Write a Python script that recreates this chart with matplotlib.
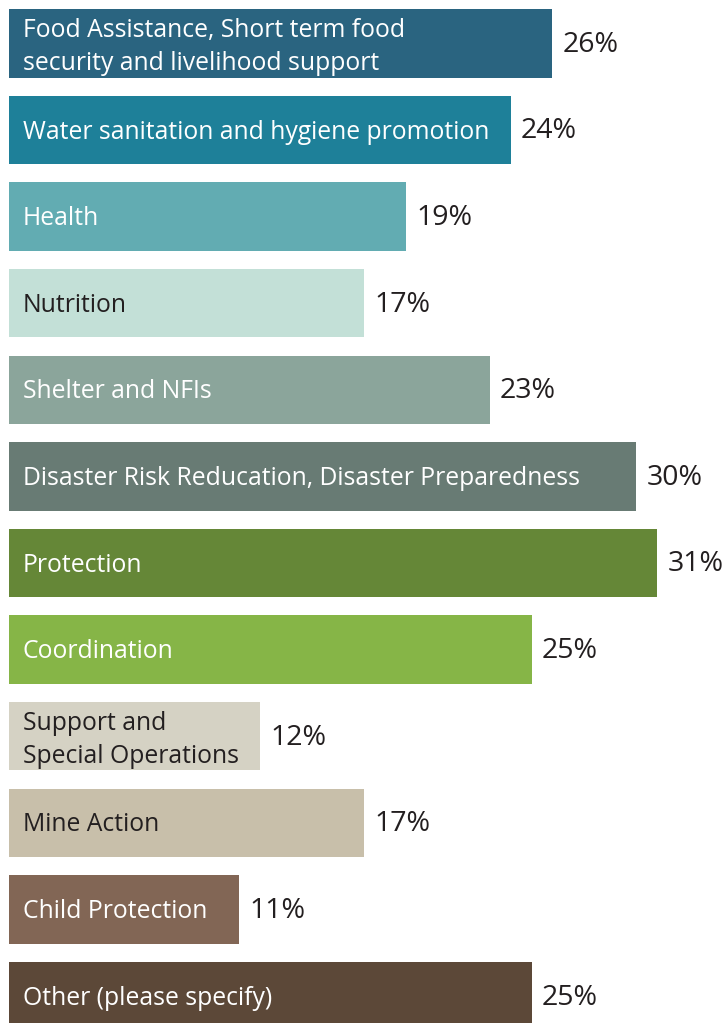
import matplotlib
matplotlib.use("Agg")
import matplotlib.pyplot as plt

plt.rcParams['font.family'] = ['Open Sans', 'DejaVu Sans']

categories = [
    "Food Assistance, Short term food\nsecurity and livelihood support",
    "Water sanitation and hygiene promotion",
    "Health",
    "Nutrition",
    "Shelter and NFIs",
    "Disaster Risk Reducation, Disaster Preparedness",
    "Protection",
    "Coordination",
    "Support and\nSpecial Operations",
    "Mine Action",
    "Child Protection",
    "Other (please specify)",
]
values = [26, 24, 19, 17, 23, 30, 31, 25, 12, 17, 11, 25]
bar_colors = ["#2a6480", "#1e8099", "#62acb2", "#c3e0d7", "#8ba59b", "#687b74",
              "#658737", "#86b547", "#d5d2c4", "#c8bfaa", "#826655", "#5c4838"]
label_colors = ["white", "white", "white", "#231f20", "white", "white",
                "white", "white", "#231f20", "#231f20", "white", "white"]

fig = plt.figure(figsize=(7.25, 10.23), dpi=100)
ax = fig.add_axes([0, 0, 1, 1])

pos = list(range(len(values)))
ax.barh(pos, values, height=0.79, color=bar_colors, left=0)

for i, (cat, v) in enumerate(zip(categories, values)):
    # two-line labels sit a touch lower inside their bars
    dy = -2.5 if "\n" in cat else -1.5
    ax.annotate(cat, xy=(0, i), xytext=(10, dy), textcoords="offset points",
                va="center", ha="left", fontsize=17.8, color=label_colors[i],
                linespacing=1.42)
    ax.annotate(f"{v}%", xy=(v, i), xytext=(7.5, -1), textcoords="offset points",
                va="center", ha="left", fontsize=20.5, color="#231f20")

ax.set_xlim(-9 / 20.9, 716 / 20.9)
ax.set_ylim(11.31, -0.5)
ax.axis("off")

fig.savefig("out.png", dpi=100)
